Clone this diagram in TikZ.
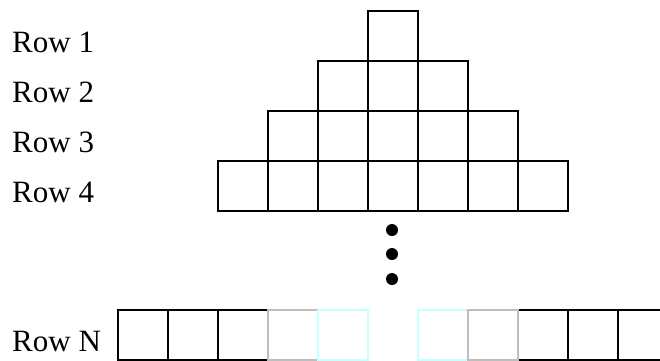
\documentclass[tikz,border=0pt]{standalone}
\usepackage{fontspec}
\setmainfont{Liberation Serif}
\definecolor{palegray}{RGB}{190,190,190}
\definecolor{palecyan}{RGB}{200,255,255}
\begin{document}
\begin{tikzpicture}[x=1pt,y=-1pt,
  cell/.style={draw=black,line width=1.5pt,minimum size=50pt,inner sep=0pt,anchor=north west},
  graycell/.style={cell,draw=palegray},
  cyancell/.style={cell,draw=palecyan},
  rowlabel/.style={anchor=base west,inner sep=0pt,font=\fontsize{31}{37}\selectfont},
  dot/.style={circle,fill=black,inner sep=0pt,minimum size=12pt}]
\useasboundingbox (0,0) rectangle (660,360);
\clip (0,0) rectangle (660,360);
% pyramid rows
\foreach \k in {1,...,4}{
  \pgfmathtruncatemacro{\n}{2*\k-1}
  \foreach \i in {1,...,\n}{
    \node[cell] (r\k c\i) at ({367-50*(\k-1)+50*(\i-1)},{10+50*(\k-1)}) {};
  }
  \node[rowlabel] (lab\k) at (12,{52+50*(\k-1)}) {Row \k};
}
% bottom row
\foreach \i in {0,1,2,8,9,10}{
  \node[cell] (rn\i) at ({117+50*\i},309) {};
}
\node[graycell] (rn3) at (267,309) {};
\node[cyancell] (rn4) at (317,309) {};
\node[cyancell] (rn6) at (417,309) {};
\node[graycell] (rn7) at (467,309) {};
\node[rowlabel] (labN) at (12,351) {Row N};
% vertical dots
\node[dot] (d1) at (392,230) {};
\node[dot] (d2) at (392,254) {};
\node[dot] (d3) at (392,279) {};
\end{tikzpicture}
\end{document}
